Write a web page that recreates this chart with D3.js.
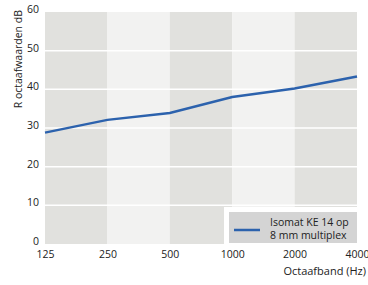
<!DOCTYPE html>
<html>
<head>
<meta charset="utf-8">
<script src="https://cdn.jsdelivr.net/npm/d3@7"></script>
<style>
  body { margin: 0; background: #fff; }
  text { font-family: "Open Sans", sans-serif; fill: #222; }
</style>
</head>
<body>
<div id="chart"></div>
<script>
// data
var bands = ["125", "250", "500", "1000", "2000", "4000"];
var rValues = [28.8, 32.1, 33.9, 38.0, 40.2, 43.3];
var yTicks = [0, 10, 20, 30, 40, 50, 60];
var seriesName = ["Isomat KE 14 op", "8 mm multiplex"];

var svgWidth = 368;
var svgHeight = 285;

var svg = d3.select("#chart")
  .append("svg")
  .attr("width", svgWidth)
  .attr("height", svgHeight);

var x = d3.scalePoint()
  .domain(bands)
  .range([45, 357]);

var y = d3.scaleLinear()
  .domain([0, 60])
  .range([244, 12]);

// alternating background columns
for (var i = 0; i < bands.length - 1; i++) {
  svg.append("rect")
    .attr("x", x(bands[i]))
    .attr("y", y(60))
    .attr("width", x(bands[i + 1]) - x(bands[i]))
    .attr("height", y(0) - y(60))
    .attr("fill", i % 2 == 0 ? "#e1e1de" : "#f2f2f1");
}

// horizontal grid
svg.selectAll(".grid")
  .data(yTicks.filter(d => d > 0 && d < 60))
  .enter()
  .append("line")
  .attr("x1", x("125"))
  .attr("x2", x("4000"))
  .attr("y1", d => y(d))
  .attr("y2", d => y(d))
  .attr("stroke", "#fff")
  .attr("stroke-width", 1.5);

// y axis labels
var leftAxis = d3.axisLeft(y).tickValues(yTicks).tickSize(0).tickPadding(6);
var yAxis = svg.append("g")
  .attr("transform", `translate(${x("125")},-3)`)
  .call(leftAxis);
yAxis.select(".domain").remove();
yAxis.selectAll("text")
  .style("font-family", "Open Sans, sans-serif")
  .style("font-size", "10.5px")
  .attr("fill", "#222");

// x axis labels
var bottomAxis = d3.axisBottom(x).tickSize(0).tickPadding(7);
var xAxis = svg.append("g")
  .attr("transform", `translate(0,${y(0)})`)
  .call(bottomAxis);
xAxis.select(".domain").remove();
xAxis.selectAll("text")
  .style("font-family", "Open Sans, sans-serif")
  .style("font-size", "10.5px")
  .attr("fill", "#222");

// axis titles
svg.append("text")
  .attr("transform", "rotate(-90)")
  .attr("x", -10)
  .attr("y", 22)
  .attr("text-anchor", "end")
  .style("font-size", "10.5px")
  .text("R octaafwaarden dB");

svg.append("text")
  .attr("x", 366)
  .attr("y", 275)
  .attr("text-anchor", "end")
  .style("font-size", "11px")
  .text("Octaafband (Hz)");

// line
var line = d3.line()
  .x((d, i) => x(bands[i]))
  .y(d => y(d));

svg.append("path")
  .datum(rValues)
  .attr("d", line)
  .attr("fill", "none")
  .attr("stroke", "#2c62ad")
  .attr("stroke-width", 2.5);

// legend
svg.append("rect")
  .attr("x", 224)
  .attr("y", 207)
  .attr("width", 133)
  .attr("height", 37)
  .attr("fill", "#fff");
svg.append("rect")
  .attr("x", 229)
  .attr("y", 212)
  .attr("width", 128)
  .attr("height", 31)
  .attr("fill", "#d4d4d4");
svg.append("line")
  .attr("x1", 234)
  .attr("x2", 260)
  .attr("y1", 230)
  .attr("y2", 230)
  .attr("stroke", "#2c62ad")
  .attr("stroke-width", 2.5);
svg.append("text")
  .attr("x", 270)
  .attr("y", 226)
  .style("font-size", "10.5px")
  .text(seriesName[0]);
svg.append("text")
  .attr("x", 270)
  .attr("y", 238.5)
  .style("font-size", "10.5px")
  .text(seriesName[1]);
</script>
</body>
</html>
